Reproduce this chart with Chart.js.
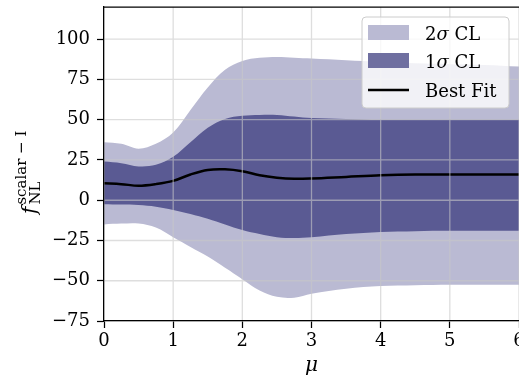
<!DOCTYPE html>
<html>
<head>
<meta charset="utf-8">
<script src="https://cdn.jsdelivr.net/npm/chart.js@4/dist/chart.umd.min.js"></script>
<style>
  html, body { margin: 0; padding: 0; background: #fff; }
  #wrap { width: 519px; height: 382px; position: relative; }
</style>
</head>
<body>
<div id="wrap"><canvas id="c"></canvas></div>
<script>
// mu values along the x axis
const muVals = [0, 0.25, 0.5, 0.75, 1, 1.25, 1.5, 1.75, 2, 2.25, 2.5, 2.75, 3, 3.5, 4, 4.5, 5, 5.5, 6];
// confidence bands and best fit
const upper2 = [36, 35, 32, 35, 42, 56, 70, 81, 86.5, 88.5, 89, 88.5, 88, 87, 86, 85, 84.5, 84, 83];
const upper1 = [24, 23, 21, 22, 27, 36, 45, 50.5, 52.5, 53, 53, 52, 51, 50.5, 50, 50, 50, 50, 50];
const bestFit = [10.5, 10, 9, 10, 12, 16, 18.8, 19.2, 18, 15.5, 14, 13.3, 13.5, 14.5, 15.5, 16, 16, 16, 16];
const lower1 = [-2.5, -2.7, -3, -4, -6, -8.5, -11.5, -15, -18.5, -21, -23, -23.5, -23, -21, -19.7, -19.2, -19, -19, -19];
const lower2 = [-15, -14.5, -14.5, -17, -23, -29, -35, -42, -49, -56, -60, -60.5, -58, -55, -53.3, -52.8, -52.5, -52.5, -52.5];
const xTicks = [0, 1, 2, 3, 4, 5, 6];
const yTicks = [-75, -50, -25, 0, 25, 50, 75, 100];

const lightCol = '#babad3';
const darkCol = '#5a5a93';
const serif = "'DejaVu Serif', serif";

const pts = arr => arr.map((v, i) => ({ x: muVals[i], y: v }));

function band(data, order, fill, color) {
  return {
    data: pts(data), order, fill,
    backgroundColor: color, borderWidth: 0, pointRadius: 0,
    tension: 0.35
  };
}

const frame = {
  id: 'frame',
  // grid sits on top of the filled bands, like the original
  afterDatasetsDraw(chart) {
    const { ctx, chartArea: a, scales } = chart;
    ctx.save();
    ctx.strokeStyle = 'rgba(200,200,200,0.6)';
    ctx.lineWidth = 1.3;
    ctx.beginPath();
    xTicks.forEach(v => {
      const px = scales.x.getPixelForValue(v);
      ctx.moveTo(px, a.top);
      ctx.lineTo(px, a.bottom);
    });
    yTicks.forEach(v => {
      const py = scales.y.getPixelForValue(v);
      ctx.moveTo(a.left, py);
      ctx.lineTo(a.right, py);
    });
    ctx.stroke();
    ctx.restore();
  },
  afterDraw(chart) {
    const { ctx, chartArea: a } = chart;
    ctx.save();
    // top spine
    ctx.strokeStyle = '#000';
    ctx.lineWidth = 1.25;
    ctx.beginPath();
    ctx.moveTo(a.left, a.top);
    ctx.lineTo(a.right, a.top);
    ctx.stroke();

    // y label f_NL^{scalar - I}
    ctx.rotate(-Math.PI / 2);
    ctx.fillStyle = '#000';
    ctx.textBaseline = 'alphabetic';
    let u = -214;
    ctx.font = 'italic 20px ' + serif;
    ctx.fillText('f', u, 36);
    u += ctx.measureText('f').width + 2;
    ctx.font = '15px ' + serif;
    ctx.fillText('scalar \u2212 I', u, 26);
    ctx.fillText('NL', u, 40);
    ctx.restore();

    // legend
    ctx.save();
    const bx = 362, by = 17, bw = 147, bh = 91;
    ctx.beginPath();
    ctx.roundRect(bx, by, bw, bh, 4);
    ctx.fillStyle = 'rgba(255,255,255,0.8)';
    ctx.fill();
    ctx.strokeStyle = '#cccccc';
    ctx.lineWidth = 1;
    ctx.stroke();

    ctx.fillStyle = lightCol;
    ctx.fillRect(368, 25, 41, 15);
    ctx.fillStyle = '#6f6fa0';
    ctx.fillRect(368, 53, 41, 15);
    ctx.strokeStyle = '#000';
    ctx.lineWidth = 2.5;
    ctx.beginPath();
    ctx.moveTo(368, 90);
    ctx.lineTo(409, 90);
    ctx.stroke();

    ctx.fillStyle = '#000';
    const entry = (num, y) => {
      let x = 425;
      ctx.font = '18px ' + serif;
      ctx.fillText(num, x, y);
      x += ctx.measureText(num).width;
      ctx.font = 'italic 18px ' + serif;
      ctx.fillText('\u03c3', x, y);
      x += ctx.measureText('\u03c3').width;
      ctx.font = '18px ' + serif;
      ctx.fillText(' CL', x, y);
    };
    entry('2', 40);
    entry('1', 68);
    ctx.font = '18px ' + serif;
    ctx.fillText('Best Fit', 425, 97);
    ctx.restore();
  }
};

const minus = v => (v < 0 ? '\u2212' + Math.abs(v) : String(v));
const gridOpts = { drawOnChartArea: false, tickColor: '#000', tickLength: 7, tickWidth: 1.25 };

new Chart(document.getElementById('c'), {
  type: 'line',
  data: {
    datasets: [
      { label: 'Best Fit', data: pts(bestFit), order: 0, borderColor: '#000', borderWidth: 2.5,
        pointRadius: 0, fill: false, tension: 0.35 },
      band(upper1, 1, false, darkCol),
      band(lower1, 1, 1, darkCol),
      band(upper2, 2, false, lightCol),
      band(lower2, 2, 3, lightCol)
    ]
  },
  options: {
    responsive: true,
    maintainAspectRatio: false,
    animation: false,
    layout: { padding: { top: 7, right: 0, left: 0, bottom: 0 } },
    plugins: { legend: { display: false }, tooltip: { enabled: false } },
    scales: {
      x: {
        type: 'linear', min: 0, max: 6,
        afterBuildTicks: s => { s.ticks = xTicks.map(v => ({ value: v })); },
        afterFit: s => { s.height = 61; s.paddingLeft = 0; s.paddingRight = 0; },
        grid: gridOpts,
        border: { color: '#000', width: 1.25, z: 2 },
        ticks: { color: '#000', padding: 3, maxRotation: 0, font: { family: serif, size: 18 }, callback: minus },
        title: { display: true, text: '\u03bc', color: '#000', padding: { top: 0 },
                 font: { family: serif, size: 20, style: 'italic' } }
      },
      y: {
        type: 'linear', min: -75, max: 120,
        afterBuildTicks: s => { s.ticks = yTicks.map(v => ({ value: v })); },
        afterFit: s => { s.width = 104; s.paddingTop = 0; s.paddingBottom = 0; },
        grid: gridOpts,
        border: { color: '#000', width: 1.25, z: 2 },
        ticks: { color: '#000', padding: 7, font: { family: serif, size: 18 }, callback: minus }
      }
    }
  },
  plugins: [frame]
});
</script>
</body>
</html>
